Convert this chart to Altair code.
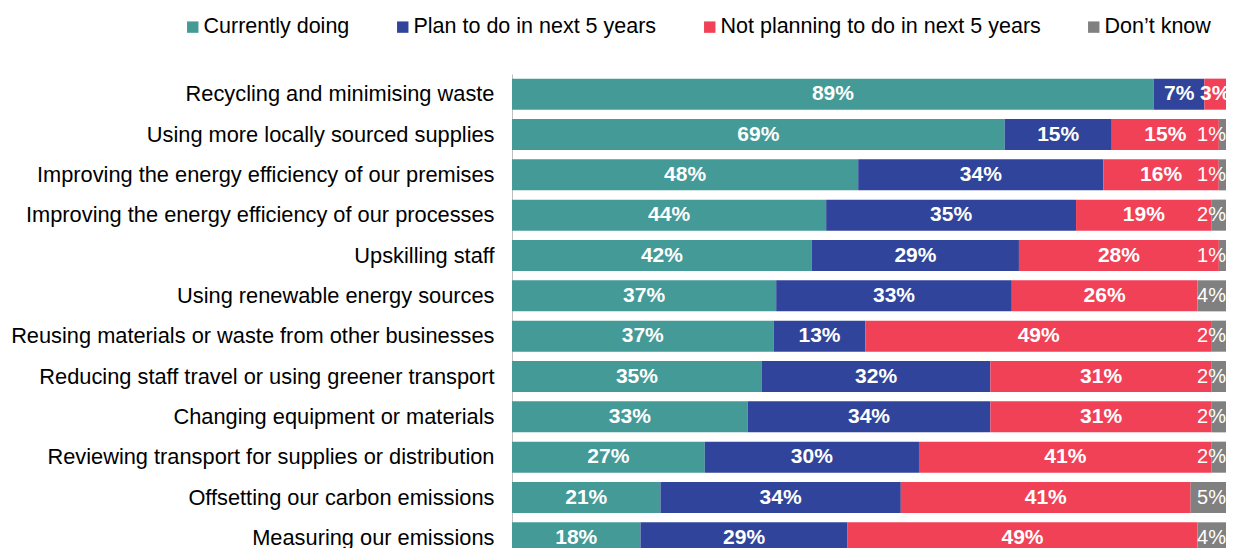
import altair as alt
import pandas as pd

categories = [
    "Recycling and minimising waste",
    "Using more locally sourced supplies",
    "Improving the energy efficiency of our premises",
    "Improving the energy efficiency of our processes",
    "Upskilling staff\u00a0",
    "Using renewable energy sources",
    "Reusing materials or waste from other businesses",
    "Reducing staff travel or using greener transport",
    "Changing equipment or materials",
    "Reviewing transport for supplies or distribution",
    "Offsetting our carbon emissions",
    "Measuring our emissions",
]
currently = [89, 69, 48, 44, 42, 37, 37, 35, 33, 27, 21, 18]
plan = [7, 15, 34, 35, 29, 33, 13, 32, 34, 30, 34, 29]
not_planning = [3, 15, 16, 19, 28, 26, 49, 31, 31, 41, 41, 49]
dont_know = [0, 1, 1, 2, 1, 4, 2, 2, 2, 2, 5, 4]

series = [
    "Currently doing",
    "Plan to do in next 5 years",
    "Not planning to do in next 5 years",
    "Don\u2019t know",
]
colors = ["#449a97", "#30449b", "#f04157", "#808080"]

rows = []
for i, cat in enumerate(categories):
    vals = [currently[i], plan[i], not_planning[i], dont_know[i]]
    total = sum(vals)
    cum = 0
    for j, v in enumerate(vals):
        rows.append(dict(category=cat, series=series[j], order=j, value=v,
                         start=cum / total, end=(cum + v) / total,
                         mid=(cum + v / 2) / total, label=f"{v}%"))
        cum += v
df = pd.DataFrame(rows)

FONT = "Liberation Sans"

y_enc = alt.Y("category:N", sort=categories, title=None,
              scale=alt.Scale(paddingInner=0.23, paddingOuter=0.115),
              axis=alt.Axis(ticks=False, labelPadding=18, labelFontSize=21.8,
                            labelFont=FONT, labelColor="black", labelLimit=700,
                            domainColor="#bfbfbf", domainWidth=1))
x_scale = alt.Scale(domain=[0, 1], nice=False, zero=True)

base = alt.Chart(df)

bars = base.mark_bar().encode(
    y=y_enc,
    x=alt.X("start:Q", scale=x_scale, axis=None),
    x2="end:Q",
    color=alt.Color("series:N", scale=alt.Scale(domain=series, range=colors),
                    legend=alt.Legend(title=None, orient="none", legendX=-330, legendY=-58,
                                      direction="horizontal", columns=4,
                                      symbolType="square", symbolSize=130,
                                      symbolStrokeWidth=0, symbolOpacity=1,
                                      labelFontSize=21.5, labelFont=FONT,
                                      labelColor="black", columnPadding=42,
                                      labelOffset=0, labelLimit=600)),
    order=alt.Order("order:Q"),
)

main_labels = base.transform_filter("datum.order < 3 && datum.value > 0").mark_text(
    color="white", fontWeight="bold", fontSize=21, font=FONT, baseline="middle"
).encode(
    y=alt.Y("category:N", sort=categories),
    x=alt.X("mid:Q", scale=x_scale),
    text="label:N",
)

dk_labels = base.transform_filter("datum.order == 3 && datum.value > 0").mark_text(
    color="white", fontSize=20, font=FONT, baseline="middle", align="right", dx=0
).encode(
    y=alt.Y("category:N", sort=categories),
    x=alt.X("end:Q", scale=x_scale),
    text="label:N",
)

chart = alt.layer(bars, main_labels, dk_labels).properties(
    width=714, height=484,
    padding={"left": 504, "top": 66, "right": 0, "bottom": 0},
    autosize=alt.AutoSizeParams(type="none"),
).configure_view(stroke=None)

chart.save("out.html", embed_options={"renderer": "svg", "actions": False})
